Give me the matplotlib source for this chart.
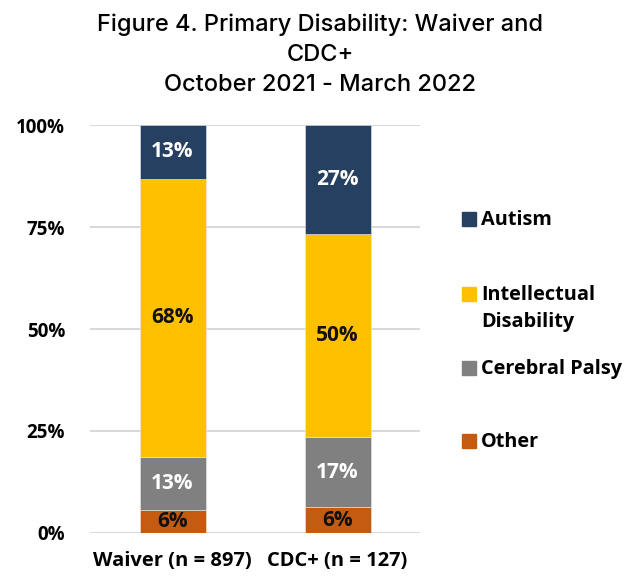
import matplotlib
matplotlib.use("Agg")
import matplotlib.pyplot as plt
from matplotlib.patches import Rectangle

# Share of participants by primary disability (percent)
groups = ["Waiver (n = 897)", "CDC+ (n = 127)"]
categories = ["Other", "Cerebral Palsy", "Intellectual\nDisability", "Autism"]
other = [5.7, 6.3]
cerebral_palsy = [13.0, 17.3]
intellectual = [68.1, 49.6]
autism = [13.2, 26.8]

colors = ["#C55A11", "#808080", "#FFC000", "#264061"]
label_colors = ["#111111", "white", "#111111", "white"]

series = [other, cerebral_palsy, intellectual, autism]

plt.rcParams["font.family"] = ["Open Sans", "DejaVu Sans"]

fig = plt.figure(figsize=(6.30, 5.81), dpi=100)
ax = fig.add_axes([90 / 630, 1 - 533 / 581, 330 / 630, 408 / 581])

x = list(range(len(groups)))
bottom = [0.0] * len(groups)
for vals, col, tcol in zip(series, colors, label_colors):
    bars = ax.bar(x, vals, width=0.4, bottom=bottom, color=col,
                  edgecolor="#e8e8e8", linewidth=0.4, zorder=3)
    for rect, v in zip(bars, vals):
        cy = rect.get_y() + rect.get_height() / 2
        ax.text(rect.get_x() + rect.get_width() / 2, cy, f"{v:.0f}%",
                ha="center", va="center", color=tcol,
                fontsize=15, fontweight="bold", zorder=4)
    bottom = [b + v for b, v in zip(bottom, vals)]

ax.set_xlim(-0.5, 1.5)
ax.set_ylim(0, 100)
ax.set_yticks([0, 25, 50, 75, 100])
ax.set_yticklabels([f"{t}%" for t in [0, 25, 50, 75, 100]],
                   fontsize=13.5, fontweight="bold")
ax.set_xticks(x)
ax.set_xticklabels(groups, fontsize=14.5, fontweight="bold")
ax.tick_params(axis="y", length=0, pad=18)
ax.tick_params(axis="x", length=0, pad=13)
ax.grid(axis="y", color="#d9d9d9", linewidth=1.5, zorder=0)
for s in ax.spines.values():
    s.set_visible(False)

# Legend drawn by hand so the entries sit at their own heights
legend_rows = [("Autism", 219), ("Intellectual\nDisability", 294),
               ("Cerebral Palsy", 368), ("Other", 441)]
legend_colors = [colors[3], colors[2], colors[1], colors[0]]
for (name, ypx), col in zip(legend_rows, legend_colors):
    fig.add_artist(Rectangle((462 / 630, 1 - (ypx + 7) / 581), 14 / 630, 14 / 581,
                             transform=fig.transFigure, color=col))
    fig.text(481 / 630, 1 - (ypx - 9) / 581, name, ha="left", va="top",
             fontsize=14.3, fontweight="bold", linespacing=1.5)

fig.text(0.508, 1 - 14 / 581,
         "Figure 4. Primary Disability: Waiver and\nCDC+\nOctober 2021 - March 2022",
         ha="center", va="top", fontsize=17, family="Inter",
         fontweight="medium", linespacing=1.45)

fig.savefig("out.png", dpi=100)
